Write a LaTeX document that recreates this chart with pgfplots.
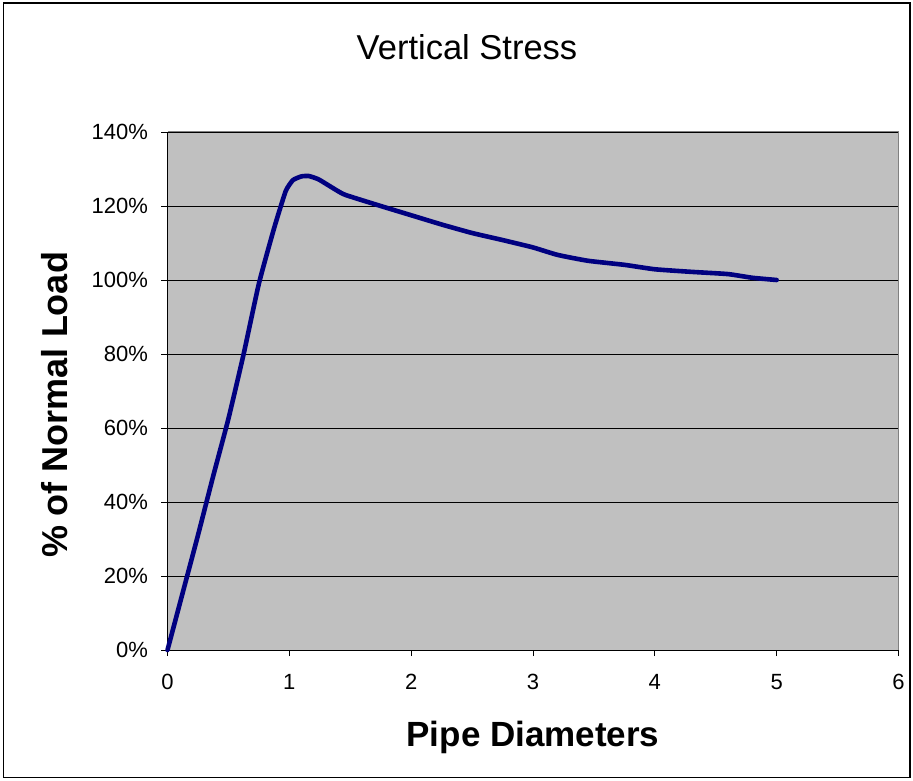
\documentclass[border=0pt]{standalone}
\usepackage{pgfplots}
\pgfplotsset{compat=1.18}
\usepackage{fontspec}
\setmainfont{Liberation Sans}
\definecolor{plotgray}{HTML}{C0C0C0}
\definecolor{navyline}{HTML}{000080}
\definecolor{edgegray}{HTML}{808080}
\begin{document}
\begin{tikzpicture}[x=1pt,y=1pt]
\path[use as bounding box] (0,0) rectangle (913,780);
\draw[line width=1.6pt,black] (3.5,2.5) rectangle (910,777);
\begin{axis}[
  at={(167.5pt,130pt)}, anchor=south west,
  scale only axis, width=731pt, height=518pt,
  xmin=0, xmax=6, ymin=0, ymax=140,
  xtick={0,1,2,3,4,5,6},
  ytick={0,20,40,60,80,100,120,140},
  yticklabels={0\%,20\%,40\%,60\%,80\%,100\%,120\%,140\%},
  /pgf/number format/assume math mode=true,
  axis background/.style={fill=plotgray},
  axis x line*=bottom, axis y line*=left,
  axis line style={black, line width=0.9pt},
  tick align=outside,
  major tick length=6pt,
  tick style={black, line width=0.8pt},
  ymajorgrids,
  major grid style={black, line width=0.8pt},
  ticklabel style={font=\fontsize{22}{26}\selectfont},
  xticklabel style={yshift=-15pt},
  yticklabel style={xshift=-10pt},
  title={Vertical Stress},
  title style={font=\fontsize{34.5}{40}\selectfont, at={(axis description cs:0.4097,1.1525)}, anchor=center},
  xlabel={\textbf{Pipe Diameters}},
  xlabel style={font=\fontsize{35}{42}\selectfont, at={(axis description cs:0.5,-0.168)}, anchor=center},
  ylabel={\textbf{\% of Normal Load}},
  ylabel style={font=\fontsize{36}{43}\selectfont, at={(axis description cs:-0.1539,0.473)}, anchor=center, rotate=0},
  clip=false,
]
\draw[edgegray, line width=1pt] (rel axis cs:0,1) -- (rel axis cs:1,1) -- (rel axis cs:1,0);
\addplot[navyline, line width=4.6pt, line join=round, line cap=round, smooth, tension=0.3] coordinates {
(0,0) (0.125,15.5) (0.25,31) (0.375,47) (0.5,62.5) (0.625,80) (0.75,99) (0.875,114) (0.97,124) (1.03,127) (1.1,128) (1.16,128.1) (1.24,127.2) (1.375,124.5) (1.46,123) (1.75,120) (2,117.5) (2.25,115) (2.5,112.7) (2.75,110.8) (3,108.8) (3.2,106.8) (3.45,105.2) (3.75,104.1) (4,102.9) (4.3,102.2) (4.6,101.6) (4.8,100.6) (5,100)
};
\end{axis}
\end{tikzpicture}
\end{document}
